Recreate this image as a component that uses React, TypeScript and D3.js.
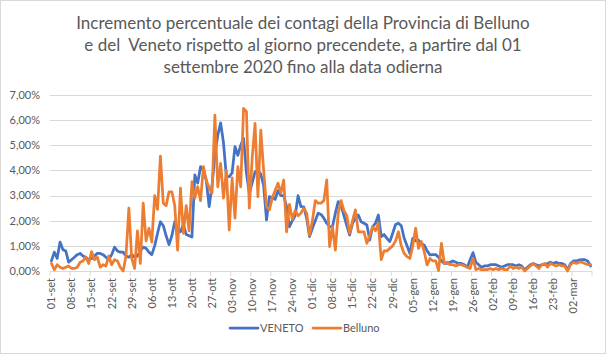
import React, { useRef, useEffect } from "react";
import * as d3 from "d3";

// Mesi abbreviati per le etichette delle categorie
const mesi = ["gen", "feb", "mar", "apr", "mag", "giu", "lug", "ago", "set", "ott", "nov", "dic"];

// Un giorno per categoria, dal 01-set-2020 al 08-mar-2021
const categorie = d3
  .timeDay.range(new Date(2020, 8, 1), new Date(2021, 2, 9))
  .map((d) => `${d3.timeFormat("%d")(d)}-${mesi[d.getMonth()]}`);

// Etichette mostrate sull'asse X (una ogni 7 giorni)
const etichetteX = [
  "01-set", "08-set", "15-set", "22-set", "29-set", "06-ott", "13-ott", "20-ott",
  "27-ott", "03-nov", "10-nov", "17-nov", "24-nov", "01-dic", "08-dic", "15-dic",
  "22-dic", "29-dic", "05-gen", "12-gen", "19-gen", "26-gen", "02-feb", "09-feb",
  "16-feb", "23-feb", "02-mar",
];

const ticksY = [0, 1, 2, 3, 4, 5, 6, 7];

// Incremento percentuale giornaliero [%]
const veneto = [
  0.40, 0.75, 0.50, 1.15, 0.85, 0.80, 0.35, 0.45, 0.55, 0.65,
  0.70, 0.60, 0.55, 0.45, 0.50, 0.60, 0.70, 0.70, 0.65, 0.55,
  0.45, 0.65, 0.95, 0.80, 0.75, 0.75, 0.60, 0.55, 0.65, 0.55,
  0.60, 0.80, 0.95, 0.90, 0.75, 0.65, 1.00, 1.50, 1.96, 1.80,
  1.40, 1.05, 1.40, 1.96, 1.70, 1.56, 1.85, 1.45, 1.40, 1.35,
  3.82, 3.50, 4.15, 4.00, 3.60, 2.56, 3.40, 4.60, 5.40, 5.89,
  5.10, 3.75, 3.75, 3.90, 4.95, 4.60, 5.00, 5.28, 3.90, 3.09,
  3.50, 3.95, 4.00, 3.85, 3.40, 2.03, 2.96, 2.90, 2.85, 3.20,
  3.00, 3.00, 2.56, 1.76, 2.00, 2.20, 3.00, 2.56, 2.55, 2.10,
  1.37, 1.70, 2.00, 2.30, 2.25, 2.10, 1.90, 1.76, 1.76, 2.30,
  2.76, 2.60, 2.20, 1.80, 1.43, 1.90, 2.10, 2.23, 1.96, 1.90,
  1.83, 1.23, 1.76, 1.90, 2.23, 1.37, 1.45, 1.30, 1.17, 1.50,
  1.85, 1.90, 1.80, 1.30, 1.00, 0.70, 1.30, 1.20, 1.23, 1.10,
  1.03, 0.80, 0.64, 0.65, 0.65, 0.55, 0.40, 0.30, 0.30, 0.35,
  0.40, 0.35, 0.30, 0.30, 0.25, 0.15, 0.45, 0.73, 0.35, 0.25,
  0.15, 0.20, 0.20, 0.25, 0.25, 0.25, 0.20, 0.15, 0.20, 0.25,
  0.25, 0.25, 0.20, 0.25, 0.20, 0.05, 0.15, 0.25, 0.30, 0.25,
  0.20, 0.25, 0.25, 0.30, 0.35, 0.30, 0.35, 0.30, 0.30, 0.25,
  0.05, 0.30, 0.40, 0.40, 0.44, 0.45, 0.45, 0.40, 0.20,
];

const belluno = [
  0.30, 0.05, 0.25, 0.15, 0.10, 0.15, 0.20, 0.10, 0.10, 0.15,
  0.35, 0.40, 0.55, 0.30, 0.77, 0.45, 0.55, 0.15, 0.25, 0.20,
  0.60, 0.25, 0.45, 0.40, 0.15, 0.00, 0.60, 2.50, 0.50, 0.10,
  1.60, 0.30, 2.70, 1.20, 1.70, 1.15, 3.00, 2.45, 4.57, 2.70,
  2.60, 3.15, 3.15, 2.60, 0.83, 3.30, 1.50, 2.60, 1.60, 3.55,
  2.90, 3.35, 2.80, 4.15, 3.60, 3.30, 3.10, 6.20, 3.35, 4.28,
  2.90, 4.00, 1.63, 3.70, 2.10, 4.15, 3.35, 6.47, 6.35, 2.50,
  4.48, 5.87, 2.96, 5.60, 4.00, 2.56, 2.43, 2.90, 3.20, 3.49,
  3.10, 3.62, 1.56, 2.65, 2.06, 2.40, 2.20, 2.30, 2.50, 2.30,
  1.43, 2.00, 2.80, 2.70, 2.70, 2.80, 3.62, 0.97, 1.76, 0.83,
  2.30, 2.80, 2.40, 2.20, 1.50, 2.00, 2.43, 1.56, 1.56, 1.56,
  1.10, 1.40, 1.76, 1.60, 1.90, 0.45, 0.80, 0.80, 0.90, 1.00,
  1.20, 1.56, 1.00, 0.70, 0.57, 0.50, 1.00, 1.70, 0.90, 1.17,
  0.77, 0.24, 0.50, 0.40, 0.40, 0.02, 1.10, 0.30, 0.35, 0.25,
  0.25, 0.20, 0.25, 0.25, 0.20, 0.15, 0.10, 0.50, 0.05, 0.10,
  0.05, 0.05, 0.05, 0.10, 0.05, 0.10, 0.05, 0.10, 0.05, 0.05,
  0.20, 0.10, 0.15, 0.10, 0.15, 0.00, 0.10, 0.20, 0.30, 0.20,
  0.10, 0.25, 0.30, 0.15, 0.30, 0.25, 0.20, 0.25, 0.20, 0.20,
  0.00, 0.25, 0.35, 0.30, 0.35, 0.35, 0.30, 0.25, 0.25,
];

const serie = [
  { name: "VENETO", values: veneto, color: "#4472C4" },
  { name: "Belluno", values: belluno, color: "#ED7D31" },
];

const titolo = [
  "Incremento percentuale dei contagi della Provincia di Belluno",
  "e del  Veneto rispetto al giorno precendete, a partire dal 01",
  "settembre 2020 fino alla data odierna",
];

const ChartContagi = ({ width = 606, height = 354 }) => {
  const d3Container = useRef(null);

  useEffect(() => {
    const container = d3Container.current;
    if (!container) return;
    d3.select(container).selectChildren().remove();

    const margin = { top: 95, right: 14, bottom: 83, left: 50 };
    const font = "Lato, 'Liberation Sans', sans-serif";
    const grigio = "#595959";

    const svg = d3.select(container).style("font-family", font);

    // Bordo dell'area del grafico
    svg
      .append("rect")
      .attr("x", 0.5)
      .attr("y", 0.5)
      .attr("width", width - 1)
      .attr("height", height - 1)
      .attr("fill", "white")
      .attr("stroke", "#d9d9d9");

    // Titolo
    svg
      .append("g")
      .selectAll("text")
      .data(titolo)
      .enter()
      .append("text")
      .attr("x", width / 2)
      .attr("y", (d, i) => 29 + i * 22)
      .attr("text-anchor", "middle")
      .attr("fill", grigio)
      .style("font-size", "17px")
      .style("white-space", "pre")
      .text((d) => d);

    // Scale
    const x = d3
      .scaleBand()
      .domain(d3.range(categorie.length))
      .range([margin.left, width - margin.right])
      .padding(0);
    const y = d3
      .scaleLinear()
      .domain([0, 7])
      .range([height - margin.bottom, margin.top]);

    // Griglia orizzontale
    svg
      .append("g")
      .selectAll("line")
      .data(ticksY)
      .enter()
      .append("line")
      .attr("x1", margin.left)
      .attr("x2", width - margin.right)
      .attr("y1", (d) => Math.round(y(d)) + 0.5)
      .attr("y2", (d) => Math.round(y(d)) + 0.5)
      .attr("stroke", "#d9d9d9")
      .attr("stroke-width", 1);

    // Etichette asse Y
    svg
      .append("g")
      .selectAll("text")
      .data(ticksY)
      .enter()
      .append("text")
      .attr("x", margin.left - 10)
      .attr("y", (d) => y(d))
      .attr("dy", "0.35em")
      .attr("text-anchor", "end")
      .attr("fill", grigio)
      .style("font-size", "11px")
      .text((d) => `${d3.format(".2f")(d).replace(".", ",")}%`);

    // Tacche asse X, ogni 7 categorie
    const tacche = d3.range(0, categorie.length + 1, 7);
    svg
      .append("g")
      .selectAll("line")
      .data(tacche)
      .enter()
      .append("line")
      .attr("x1", (d) => (d < categorie.length ? x(d) : x.range()[1]))
      .attr("x2", (d) => (d < categorie.length ? x(d) : x.range()[1]))
      .attr("y1", y(0))
      .attr("y2", y(0) + 5)
      .attr("stroke", "#d9d9d9");

    // Etichette asse X (ruotate)
    const idxEtichette = categorie
      .map((c, i) => (etichetteX.includes(c) ? i : -1))
      .filter((i) => i >= 0);
    svg
      .append("g")
      .selectAll("text")
      .data(idxEtichette)
      .enter()
      .append("text")
      .attr(
        "transform",
        (i) => `translate(${x(i) + x.bandwidth() / 2}, ${y(0) + 7}) rotate(-90)`
      )
      .attr("dy", "0.35em")
      .attr("text-anchor", "end")
      .attr("fill", grigio)
      .style("font-size", "11px")
      .text((i) => categorie[i]);

    // Linee delle serie
    const linea = d3
      .line()
      .x((d, i) => x(i) + x.bandwidth() / 2)
      .y((d) => y(d))
      .curve(d3.curveLinear);

    svg
      .append("g")
      .selectAll("path")
      .data(serie)
      .enter()
      .append("path")
      .attr("d", (s) => linea(s.values))
      .attr("fill", "none")
      .attr("stroke", (s) => s.color)
      .attr("stroke-width", 2.75)
      .attr("stroke-linejoin", "round")
      .attr("stroke-linecap", "round");

    // Legenda
    const legY = 328;
    const leg = svg
      .append("g")
      .selectAll("g")
      .data(serie)
      .enter()
      .append("g")
      .attr("transform", (d, i) => `translate(${230 + i * 83}, ${legY})`);
    leg
      .append("line")
      .attr("x1", 0)
      .attr("x2", 28)
      .attr("stroke", (d) => d.color)
      .attr("stroke-width", 2.75)
      .attr("stroke-linecap", "round");
    leg
      .append("text")
      .attr("x", 30)
      .attr("dy", "0.35em")
      .attr("fill", grigio)
      .style("font-size", "11px")
      .text((d) => d.name);
  }, [width, height]);

  return (
    <svg
      width={width}
      height={height}
      ref={d3Container}
      style={{ position: "absolute", left: 0, top: 0 }}
    />
  );
};

export default function App() {
  return <ChartContagi />;
}
